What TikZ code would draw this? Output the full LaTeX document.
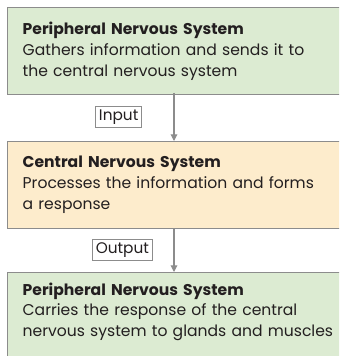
\documentclass[tikz,border=0pt]{standalone}
\usepackage{fontspec}
\setmainfont{Poppins}
\usepackage{xcolor}
\usepackage{tikz}
\usetikzlibrary{arrows.meta,positioning}

\definecolor{pnsgreen}{RGB}{220,235,210}
\definecolor{cnsorange}{RGB}{253,236,204}
\definecolor{edgegray}{RGB}{140,140,140}
\definecolor{inkgray}{RGB}{35,31,32}

\tikzset{
  sysbox/.style={draw=edgegray, line width=1pt, anchor=north west,
    minimum width=270pt, minimum height=65pt, text width=247.5pt,
    inner xsep=11.25pt, align=left, text=inkgray,
    font=\fontsize{11.7}{15.6}\selectfont},
  flow/.style={-{Triangle[length=5pt, width=5pt]}, draw=edgegray, line width=0.8pt},
  tagbox/.style={draw=edgegray, fill=white, line width=0.5pt, inner xsep=2.5pt,
    inner ysep=2.5pt, text=inkgray, font=\fontsize{11.5}{13}\selectfont}
}

\begin{document}
\begin{tikzpicture}[x=0.75pt, y=-0.75pt]

\useasboundingbox (0,0) rectangle (339,356);
\clip (0,0) rectangle (339,356);

% ---- Three stacked system boxes (last one runs off the bottom) ----
\node[sysbox, fill=pnsgreen] (pnsIn) at (7,7)
  {\textbf{Peripheral Nervous System}\\Gathers information and sends it to\\the central nervous system};
\node[sysbox, fill=cnsorange] (cns) at (7,141)
  {\textbf{Central Nervous System}\\Processes the information and forms\\a response};
\node[sysbox, fill=pnsgreen, minimum height=68pt] (pnsOut) at (7,272)
  {\textbf{Peripheral Nervous System}\\Carries the response of the central\\nervous system to glands and muscles\\[-3pt]\mbox{}};

% ---- Flow arrows with tags ----
\coordinate (inTop) at (174,93);
\coordinate (inEnd) at (174,141);
\coordinate (outTop) at (174,228);
\coordinate (outEnd) at (174,272);
\draw[flow] (inTop) -- (inEnd)
  node[midway, left=24pt, tagbox] (input) {Input};
\draw[flow] (outTop) -- (outEnd)
  node[midway, left=16pt, tagbox] (output) {Output};

\end{tikzpicture}
\end{document}
